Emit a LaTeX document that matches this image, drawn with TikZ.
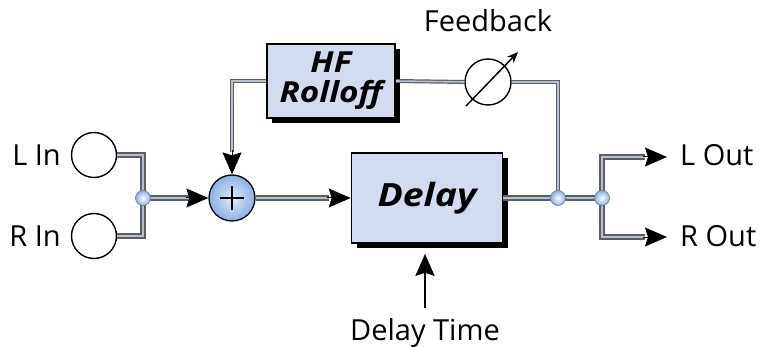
\documentclass[tikz,border=0pt]{standalone}
\usepackage{fontspec}
\setmainfont{Open Sans}
\usetikzlibrary{arrows.meta,calc,shadows}
\definecolor{boxfill}{HTML}{D2DCF0}
\definecolor{pipeout}{HTML}{5A5E66}
\definecolor{pipein}{HTML}{B8C0D0}
\definecolor{ballc}{HTML}{8AB0E4}
\tikzset{
  x=1pt,y=-1pt,
  pipeO/.style={draw=pipeout,line width=6.5pt,line join=miter},
  pipeI/.style={draw=pipein,line width=2.8pt,line join=miter},
  thinO/.style={draw=pipeout,line width=4pt,line join=miter},
  thinI/.style={draw=pipein,line width=1.6pt,line join=miter},
  tipA/.style={-{Stealth[length=22pt,width=19pt,inset=3pt]},line width=1pt,black},
  blockbox/.style={draw=black,line width=1.6pt,fill=boxfill,
     drop shadow={shadow xshift=5pt,shadow yshift=-5pt,fill=black,opacity=1},
     font=\bfseries\itshape, align=center, inner sep=0pt},
  jdot/.style={circle,draw=ballc!70!black,line width=0.6pt,minimum size=15pt,inner sep=0pt,shading=radial,inner color=white,outer color=ballc},
  incirc/.style={circle,draw=black,line width=1.4pt,minimum size=45pt,inner sep=0pt},
  lbl/.style={font=\fontsize{29}{32}\selectfont,inner sep=0pt},
}
\begin{document}
\begin{tikzpicture}
\useasboundingbox (0,0) rectangle (762,347);
% nodes
\node[incirc] (lin) at (94,155) {};
\node[incirc] (rin) at (94,236) {};
\node[lbl,anchor=east] (lint) at (61,155) {L In};
\node[lbl,anchor=east] (rint) at (61,236) {R In};
\coordinate (j0) at (143,198);
\node[blockbox,minimum width=151pt,minimum height=90pt,font=\bfseries\itshape\fontsize{32}{34}\selectfont] (delay) at (427,198) {\scalebox{1.17}[1]{Delay}};
\node[blockbox,minimum width=128pt,minimum height=74pt,font=\bfseries\itshape\fontsize{29}{31}\selectfont] (hf) at (331,81) {\scalebox{1.15}[1]{HF}\\[-1pt]\scalebox{1.15}[1]{Rolloff}};
\node[circle,draw=black,line width=1.4pt,minimum size=46pt,inner sep=0pt] (pot) at (488,82) {};
\node[lbl,anchor=base] (fb) at (488,32) {Feedback};
\coordinate (ja) at (558,198);
\coordinate (jb) at (602,198);
\coordinate (lout) at (667,157);
\coordinate (rout) at (667,237);
\node[lbl,anchor=west] (loutt) at (680,155) {L Out};
\node[lbl,anchor=west] (routt) at (680,236) {R Out};
\node[lbl,anchor=base] (dt) at (425,340) {Delay Time};
\coordinate (dtarr) at (425,308);
% input pipes
\foreach \s in {pipeO,pipeI}{
  \draw[\s] (lin.east) -| (j0) |- (rin.east);
  \draw[\s] (j0) -- ($(j0)+(46,0)$);
}
% sum node
\node[circle,draw=black,line width=1.3pt,minimum size=46pt,inner sep=0pt,shading=radial,inner color=ballc!25!white,outer color=ballc] (sum) at (232,198) {};
\draw[line width=1.8pt] ($(sum.center)+(-12,0)$) -- ($(sum.center)+(12,0)$)
  ($(sum.center)+(0,-12)$) -- ($(sum.center)+(0,12)$);
\draw[tipA] ($(sum.west)+(-22,0)$) -- (sum.west);
% sum to delay
\foreach \s in {pipeO,pipeI}{
  \draw[\s] (sum.east) -- ($(delay.west)+(-22,0)$);
}
\draw[tipA] ($(delay.west)+(-24,0)$) -- (delay.west);
% delay output and feedback
\foreach \s in {thinO,thinI}{
  \draw[\s] (ja) -- (ja|-pot) -- (pot.east);
  \draw[\s] (pot.west) -- (hf.east);
  \draw[\s] (hf.west) -| ($(sum.north)+(0,-22)$);
}
\draw[tipA] ($(sum.north)+(0,-24)$) -- (sum.north);
\foreach \s in {pipeO,pipeI}{
  \draw[\s] (delay.east) -- (jb);
  \draw[\s] ($(lout)+(-22,0)$) -| (jb) |- ($(rout)+(-22,0)$);
}
\draw[tipA] ($(lout)+(-24,0)$) -- (lout);
\draw[tipA] ($(rout)+(-24,0)$) -- (rout);
% pot arrow
\draw[line width=1.5pt,-{Stealth[length=11pt,width=9pt]}] ($(pot.center)+(-22,24)$) -- ($(pot.center)+(30,-30)$);
% junction dots
\node[jdot] (jd0) at (j0) {};
\node[jdot] (jda) at (ja) {};
\node[jdot] (jdb) at (jb) {};
% delay time arrow
\draw[tipA,line width=2.4pt] (dtarr) -- ($(delay.south)+(-2,10)$);
\end{tikzpicture}
\end{document}
